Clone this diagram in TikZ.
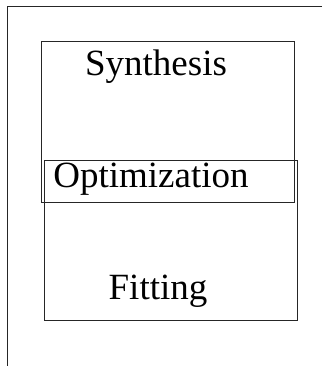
\documentclass[tikz,border=0pt]{standalone}
\usepackage{fontspec}
\setmainfont{Liberation Serif}
\begin{document}
\begin{tikzpicture}[x=1pt,y=-1pt,
  frameline/.style={line width=0.9pt,black!85},
  boxline/.style={draw,line width=0.9pt,black!85,rectangle,inner sep=0pt,anchor=north west},
  label/.style={font=\fontsize{37}{40}\selectfont,anchor=base,inner sep=0pt}]
\useasboundingbox (0,0) rectangle (322,366);
% outer frame (top and left sides)
\coordinate (fr) at (322,6);
\coordinate (fc) at (7,6);
\coordinate (fb) at (7,366);
\draw[frameline] (fr) -- (fc) -- (fb);
% two overlapping boxes
\node[boxline,minimum width=253pt,minimum height=161pt] (synbox) at (41,41) {};
\node[boxline,minimum width=253pt,minimum height=160pt] (fitbox) at (44,160) {};
% labels
\node[label] (syn) at (156,76) {Synthesis};
\node[label] (opt) at (151,187) {Optimization};
\node[label] (fit) at (158,299) {Fitting};
\end{tikzpicture}
\end{document}
